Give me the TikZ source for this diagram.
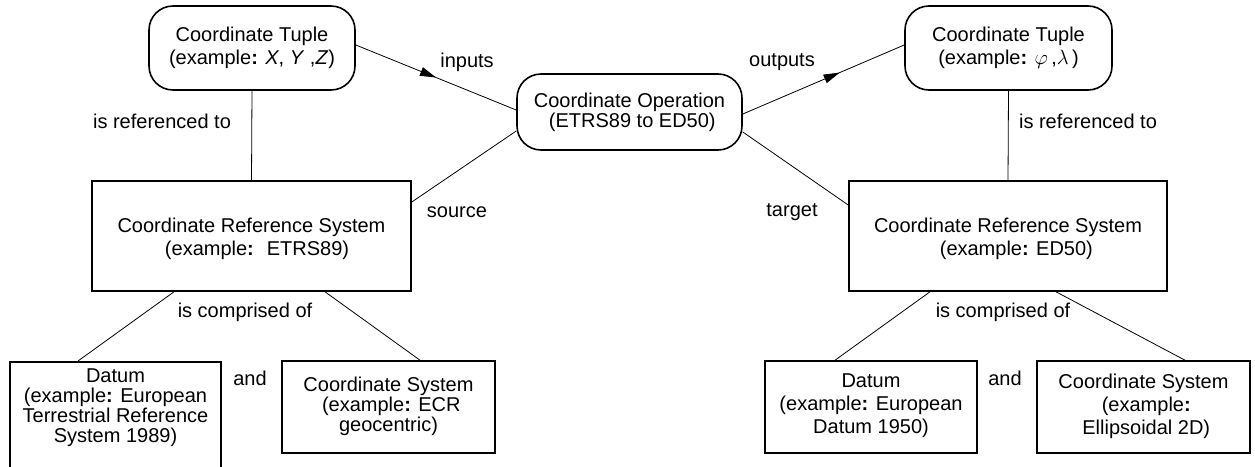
\documentclass[tikz,border=0pt]{standalone}
\usepackage{fontspec}
\setmainfont{Liberation Sans}
\usetikzlibrary{calc,decorations.markings,arrows.meta}
\begin{document}
\begin{tikzpicture}[x=1pt,y=-1pt,
  every node/.style={font=\fontsize{20}{23}\selectfont, inner sep=0pt},
  roundbox/.style={draw, line width=1.6pt, rounded corners=24pt, align=center},
  sqbox/.style={draw, line width=1.6pt, align=center},
  conn/.style={line width=0.8pt},
  midarrow/.style={postaction={decorate}, decoration={markings, mark=at position #1 with {\arrow{Triangle[length=16pt,width=9pt]}}}},
  lbl/.style={font=\fontsize{20}{23}\selectfont},
  tight/.style={font=\fontsize{20}{20}\selectfont}
]
\useasboundingbox (0,0) rectangle (1255,466);
\clip (0,0) rectangle (1255,466);
\fill[white] (0,0) rectangle (1255,466);

% top row
\node[roundbox, minimum width=206pt, minimum height=84pt] (tupL) at (252,48)
  {Coordinate Tuple\\(example\textbf{:} \textit{X}, \textit{Y} ,\textit{Z})};
\node[roundbox, tight, minimum width=225pt, minimum height=76pt] (op) at (629.5,112)
  {Coordinate Operation\\ \ (ETRS89 to ED50)};
\node[roundbox, minimum width=207pt, minimum height=84pt] (tupR) at (1008.5,48)
  {Coordinate Tuple\\(example\textbf{:} $\varphi$\,,$\lambda$\,)};

% CRS
\node[sqbox, minimum width=319pt, minimum height=110pt] (crsL) at (251.5,236) {};
\node[align=center] (crsLt) at (251.5,239)
  {Coordinate Reference System\\ \ \ (example\textbf{:} \ ETRS89)};
\node[sqbox, minimum width=318pt, minimum height=110pt] (crsR) at (1008,236) {};
\node[align=center] (crsRt) at (1008,239)
  {Coordinate Reference System\\ \ \ \ (example\textbf{:} ED50)};

% bottom row
\node[sqbox, minimum width=211pt, minimum height=120pt, anchor=north] (datL) at (115.5,361) {};
\node[align=center, tight] (datLt) at (115.5,408)
  {Datum\\(example\textbf{:} European\\Terrestrial Reference\\System 1989)};
\node[sqbox, minimum width=213pt, minimum height=92pt] (csL) at (388.5,407) {};
\node[align=center, tight] (csLt) at (388.5,406)
  {Coordinate System\\ \ (example\textbf{:} ECR\\geocentric)};
\node[sqbox, minimum width=212pt, minimum height=92pt] (datR) at (871,407) {};
\node[align=center] (datRt) at (871,406)
  {Datum\\(example\textbf{:} European\\Datum 1950)};
\node[sqbox, minimum width=213pt, minimum height=92pt] (csR) at (1143.5,407) {};
\node[align=center] (csRt) at (1143.5,406)
  {Coordinate System\\ \ (example\textbf{:}\\ \ Ellipsoidal 2D)};

% connectors
\draw[conn, midarrow=0.5] (tupL.east |- 0,45) -- (op.west |- 0,110);
\draw[conn, midarrow=0.6] (op.east |- 0,114) -- (tupR.west |- 0,45);
\draw[conn] (op.west |- 0,131) -- (crsL.east |- 0,202);
\draw[conn] (op.east |- 0,132) -- (crsR.west |- 0,205);
\draw[conn] (tupL.south) -- (crsL.north);
\draw[conn] (tupR.south) -- (crsR.north);
\draw[conn] (crsL.south -| 174,0) -- (datL.north -| 78,0);
\draw[conn] (crsL.south -| 325,0) -- (csL.north -| 420,0);
\draw[conn] (crsR.south -| 930,0) -- (datR.north -| 835,0);
\draw[conn] (crsR.south -| 1056,0) -- (csR.north -| 1185,0);

% labels
\node[lbl] (inputs) at (467,62) {inputs};
\node[lbl] (outputs) at (782,62) {outputs};
\node[lbl] (source) at (457,212) {source};
\node[lbl] (target) at (792,212) {target};
\node[lbl] (refL) at (162,121) {is referenced to};
\node[lbl] (refR) at (1088,121) {is referenced to};
\node[lbl] (compL) at (245,312) {is comprised of};
\node[lbl] (compR) at (1003,312) {is comprised of};
\node[lbl] (andL) at (250,378) {and};
\node[lbl] (andR) at (1005,378) {and};
\end{tikzpicture}
\end{document}
